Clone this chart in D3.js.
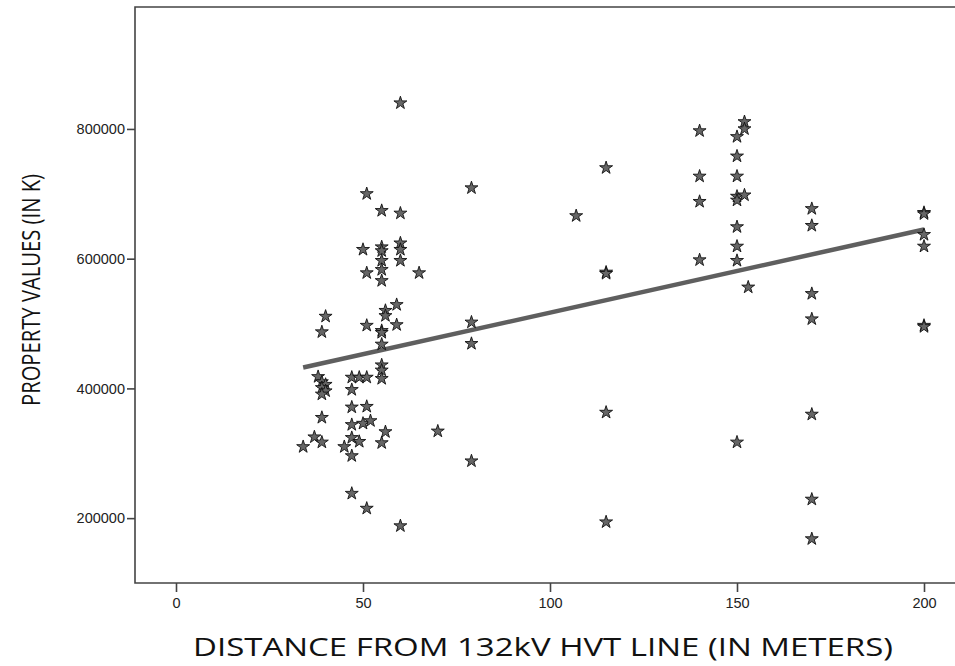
<!DOCTYPE html>
<html>
<head>
<meta charset="utf-8">
<script src="https://cdn.jsdelivr.net/npm/d3@7"></script>
<style>
  body { margin: 0; background: #fff; }
  svg { display: block; }
</style>
</head>
<body>
<div id="chart"></div>
<script>
// distance from the line (m) and property value
const distance = [
  34, 37, 38, 39, 40, 39, 40, 39, 40, 39, 39, 39,
  45, 47, 47, 47, 47, 47, 47, 47, 49, 49, 50, 50,
  51, 51, 51, 51, 51, 51, 52,
  55, 55, 55, 55, 55, 55, 55, 55, 55, 55, 55, 55, 55,
  56, 56, 56, 59, 59, 60, 60, 60, 60, 60, 60, 65, 70,
  79, 79, 79, 79, 107, 115, 115, 115, 115, 115,
  140, 140, 140, 140,
  150, 150, 150, 150, 150, 150, 150, 150, 150, 152, 152, 152, 153,
  170, 170, 170, 170, 170, 170, 170,
  200, 200, 200, 200, 200, 200
]
const value = [
  310000, 325000, 418000, 410000, 406000, 401000, 396000, 391000, 511000, 487000, 355000, 317000,
  310000, 417000, 398000, 371000, 344000, 324000, 296000, 238000, 417000, 318000, 614000, 346000,
  700000, 578000, 497000, 417000, 372000, 215000, 350000,
  674000, 618000, 612000, 597000, 583000, 566000, 489000, 486000, 468000, 436000, 428000, 415000, 316000,
  520000, 512000, 333000, 529000, 498000, 840000, 670000, 624000, 614000, 597000, 188000, 578000, 334000,
  709000, 502000, 469000, 288000, 666000, 740000, 579000, 577000, 363000, 194000,
  797000, 727000, 688000, 598000,
  788000, 758000, 727000, 696000, 690000, 649000, 619000, 597000, 317000, 811000, 800000, 698000, 556000,
  677000, 651000, 546000, 507000, 360000, 229000, 168000,
  671000, 669000, 637000, 619000, 497000, 495000
]
// fit line end points (distance, value)
const fitX = [34, 200]
const fitY = [432300, 645000]

const xTicks = [0, 50, 100, 150, 200]
const yTicks = [200000, 400000, 600000, 800000]

const width = 955, height = 666
const frame = {left: 135, top: 7, bottom: 583, right: 955}

let svg = d3.select("#chart").append("svg")
  .attr("width", width)
  .attr("height", height)

let x = d3.scaleLinear().domain([0, 200]).range([176, 924])
let y = d3.scaleLinear().domain([100000, 988000]).range([frame.bottom, frame.top])

// box lines (the right side runs off the picture)
svg.append("path")
  .attr("d", `M${frame.right},${frame.top}H${frame.left}V${frame.bottom}H${frame.right}`)
  .attr("fill", "none")
  .attr("stroke", "#444")
  .attr("stroke-width", 1.6)

let xAxis = svg.append("g")
  .attr("transform", `translate(0,${frame.bottom})`)
  .call(d3.axisBottom(x).tickValues(xTicks).tickSize(9).tickSizeOuter(0).tickPadding(6))
xAxis.select(".domain").remove()

let yAxis = svg.append("g")
  .attr("transform", `translate(${frame.left},0)`)
  .call(d3.axisLeft(y).tickValues(yTicks).tickSize(8).tickSizeOuter(0).tickPadding(2)
    .tickFormat(d3.format("d")))
yAxis.select(".domain").remove()

svg.selectAll(".tick line").attr("stroke", "#444").attr("stroke-width", 1.6)
svg.selectAll(".tick text")
  .attr("fill", "#222")
  .style("font-family", "Arial, 'Liberation Sans', sans-serif")
  .style("font-size", "14.5px")

// fit line
svg.append("line")
  .attr("x1", x(fitX[0])).attr("y1", y(fitY[0]))
  .attr("x2", x(fitX[1])).attr("y2", y(fitY[1]))
  .attr("stroke", "#5f5f5f")
  .attr("stroke-width", 4.5)

// star markers
let star = d3.symbol(d3.symbolStar, 52)
svg.append("g").selectAll("path")
  .data(distance.map((d, i) => [d, value[i]]))
  .enter()
  .append("path")
  .attr("d", star)
  .attr("transform", d => `translate(${x(d[0])},${y(d[1])})`)
  .attr("fill", "#666")
  .attr("stroke", "#111")
  .attr("stroke-width", 0.9)

// titles
svg.append("text")
  .attr("x", 543)
  .attr("y", 656)
  .attr("text-anchor", "middle")
  .attr("textLength", 700)
  .attr("lengthAdjust", "spacingAndGlyphs")
  .style("font-family", "'Open Sans', sans-serif")
  .style("font-size", "25px")
  .attr("fill", "#111")
  .text("DISTANCE FROM 132kV HVT LINE (IN METERS)")

svg.append("text")
  .attr("transform", "translate(40,290) rotate(-90)")
  .attr("text-anchor", "middle")
  .attr("textLength", 232)
  .attr("lengthAdjust", "spacingAndGlyphs")
  .style("font-family", "'Open Sans', sans-serif")
  .style("font-size", "26px")
  .attr("fill", "#111")
  .text("PROPERTY VALUES (IN K)")
</script>
</body>
</html>
